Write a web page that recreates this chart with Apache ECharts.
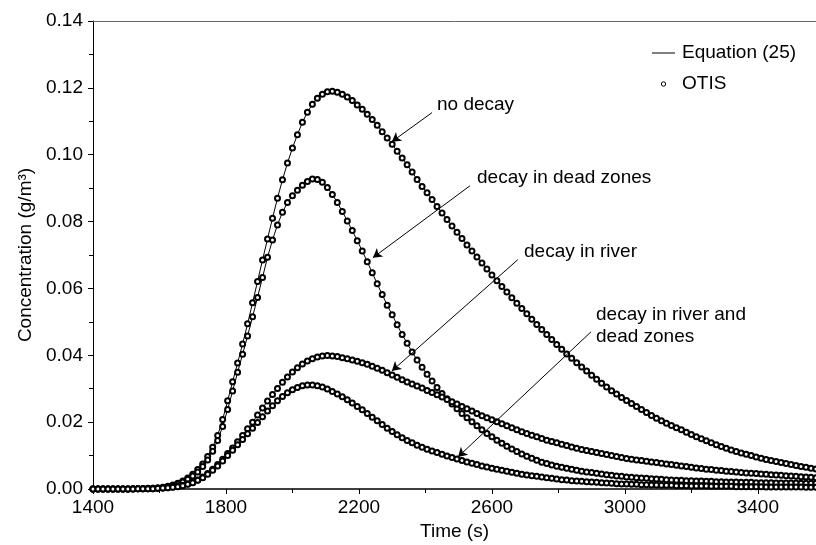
<!DOCTYPE html>
<html lang="en">
<head>
    <meta charset="UTF-8">
    <title>concentration</title>
    <script src="https://cdn.jsdelivr.net/npm/echarts@6/dist/echarts.min.js"></script>
</head>
<body style="margin:0">
    <div id="main" style="width: 816px;height: 545px;"></div>
    <script>
        // time axis: one OTIS point every 15 s starting at 1400 s
        var tStart = 1400
        var tStep = 15

        var noDecay = [
            0, 0, 0, 0, 0, 0, 0, 0, 0.0001, 0.0001,
            0.0001, 0.0002, 0.0002, 0.0003, 0.0005, 0.0008, 0.0012, 0.0017, 0.0024, 0.0033,
            0.0044, 0.0058, 0.0075, 0.0097, 0.0125, 0.0160, 0.0208, 0.0264, 0.0321, 0.0377,
            0.0434, 0.0494, 0.0557, 0.0621, 0.0685, 0.0748, 0.0810, 0.0870, 0.0925, 0.0975,
            0.1020, 0.1060, 0.1097, 0.1127, 0.1151, 0.1169, 0.1181, 0.1188, 0.1190, 0.1187,
            0.1181, 0.1173, 0.1162, 0.1149, 0.1136, 0.1121, 0.1105, 0.1088, 0.1069, 0.1050,
            0.1031, 0.1010, 0.0990, 0.0970, 0.0948, 0.0926, 0.0905, 0.0886, 0.0866, 0.0845,
            0.0826, 0.0806, 0.0787, 0.0768, 0.0749, 0.0730, 0.0712, 0.0694, 0.0676, 0.0658,
            0.0640, 0.0623, 0.0606, 0.0589, 0.0572, 0.0556, 0.0540, 0.0524, 0.0508, 0.0492,
            0.0477, 0.0462, 0.0447, 0.0432, 0.0418, 0.0404, 0.0391, 0.0378, 0.0365, 0.0353,
            0.0340, 0.0328, 0.0316, 0.0305, 0.0294, 0.0284, 0.0274, 0.0265, 0.0256, 0.0247,
            0.0238, 0.0229, 0.0220, 0.0212, 0.0204, 0.0197, 0.0190, 0.0183, 0.0177, 0.0170,
            0.0163, 0.0156, 0.0150, 0.0144, 0.0138, 0.0132, 0.0127, 0.0122, 0.0117, 0.0112,
            0.0108, 0.0104, 0.0100, 0.0096, 0.0092, 0.0088, 0.0085, 0.0082, 0.0079, 0.0076,
            0.0073, 0.0070, 0.0067, 0.0065, 0.0062, 0.0060, 0.0058
        ]
        var decayDeadZones = [
            0, 0, 0, 0, 0, 0, 0, 0, 0.0001, 0.0001,
            0.0001, 0.0001, 0.0002, 0.0003, 0.0004, 0.0007, 0.0010, 0.0015, 0.0021, 0.0029,
            0.0039, 0.0051, 0.0067, 0.0087, 0.0113, 0.0145, 0.0187, 0.0238, 0.0293, 0.0349,
            0.0403, 0.0458, 0.0515, 0.0573, 0.0633, 0.0693, 0.0745, 0.0790, 0.0828, 0.0857,
            0.0877, 0.0894, 0.0909, 0.0920, 0.0927, 0.0926, 0.0918, 0.0902, 0.0881, 0.0857,
            0.0830, 0.0802, 0.0773, 0.0743, 0.0712, 0.0680, 0.0647, 0.0614, 0.0582, 0.0550,
            0.0521, 0.0491, 0.0462, 0.0436, 0.0410, 0.0386, 0.0364, 0.0343, 0.0323, 0.0304,
            0.0286, 0.0270, 0.0254, 0.0240, 0.0226, 0.0213, 0.0201, 0.0189, 0.0177, 0.0166,
            0.0156, 0.0146, 0.0137, 0.0128, 0.0120, 0.0112, 0.0105, 0.0098, 0.0092, 0.0086,
            0.0080, 0.0076, 0.0072, 0.0068, 0.0065, 0.0062, 0.0059, 0.0056, 0.0053, 0.0051,
            0.0049, 0.0047, 0.0045, 0.0043, 0.0041, 0.0039, 0.0038, 0.0036, 0.0035, 0.0034,
            0.0033, 0.0032, 0.0031, 0.0030, 0.0029, 0.0028, 0.0027, 0.0026, 0.0026, 0.0025,
            0.0025, 0.0024, 0.0024, 0.0023, 0.0023, 0.0022, 0.0022, 0.0021, 0.0021, 0.0021,
            0.0020, 0.0020, 0.0020, 0.0019, 0.0019, 0.0019, 0.0019, 0.0018, 0.0018, 0.0018,
            0.0018, 0.0018, 0.0017, 0.0017, 0.0017, 0.0017, 0.0017
        ]
        var decayRiver = [
            0, 0, 0, 0, 0, 0, 0, 0, 0, 0.0001,
            0.0001, 0.0001, 0.0001, 0.0002, 0.0003, 0.0004, 0.0006, 0.0008, 0.0011, 0.0015,
            0.0020, 0.0027, 0.0036, 0.0046, 0.0059, 0.0073, 0.0089, 0.0106, 0.0123, 0.0141,
            0.0160, 0.0180, 0.0200, 0.0221, 0.0242, 0.0263, 0.0283, 0.0301, 0.0319, 0.0335,
            0.0350, 0.0363, 0.0374, 0.0383, 0.0390, 0.0395, 0.0398, 0.0399, 0.0398, 0.0396,
            0.0393, 0.0390, 0.0386, 0.0382, 0.0378, 0.0373, 0.0367, 0.0361, 0.0355, 0.0348,
            0.0341, 0.0334, 0.0327, 0.0320, 0.0314, 0.0308, 0.0302, 0.0295, 0.0289, 0.0282,
            0.0275, 0.0268, 0.0261, 0.0254, 0.0247, 0.0240, 0.0233, 0.0226, 0.0219, 0.0213,
            0.0207, 0.0201, 0.0195, 0.0189, 0.0183, 0.0177, 0.0171, 0.0166, 0.0161, 0.0156,
            0.0151, 0.0146, 0.0142, 0.0138, 0.0134, 0.0130, 0.0126, 0.0122, 0.0118, 0.0115,
            0.0112, 0.0109, 0.0106, 0.0103, 0.0100, 0.0097, 0.0094, 0.0091, 0.0089, 0.0087,
            0.0085, 0.0083, 0.0081, 0.0079, 0.0077, 0.0075, 0.0073, 0.0071, 0.0069, 0.0067,
            0.0065, 0.0063, 0.0061, 0.0059, 0.0058, 0.0056, 0.0055, 0.0053, 0.0052, 0.0051,
            0.0049, 0.0048, 0.0047, 0.0046, 0.0045, 0.0044, 0.0043, 0.0042, 0.0041, 0.0040,
            0.0039, 0.0038, 0.0037, 0.0036, 0.0035, 0.0034, 0.0033
        ]
        var decayRiverDead = [
            0, 0, 0, 0, 0, 0, 0, 0, 0, 0.0001,
            0.0001, 0.0001, 0.0001, 0.0002, 0.0003, 0.0004, 0.0005, 0.0007, 0.0010, 0.0014,
            0.0019, 0.0026, 0.0034, 0.0044, 0.0056, 0.0069, 0.0084, 0.0100, 0.0116, 0.0132,
            0.0148, 0.0165, 0.0182, 0.0199, 0.0216, 0.0233, 0.0249, 0.0264, 0.0277, 0.0288,
            0.0297, 0.0304, 0.0309, 0.0311, 0.0311, 0.0309, 0.0305, 0.0299, 0.0292, 0.0284,
            0.0276, 0.0267, 0.0257, 0.0247, 0.0237, 0.0226, 0.0215, 0.0204, 0.0193, 0.0182,
            0.0172, 0.0162, 0.0153, 0.0145, 0.0138, 0.0131, 0.0125, 0.0119, 0.0114, 0.0109,
            0.0104, 0.0099, 0.0094, 0.0090, 0.0085, 0.0081, 0.0077, 0.0073, 0.0069, 0.0066,
            0.0062, 0.0059, 0.0056, 0.0053, 0.0050, 0.0047, 0.0044, 0.0042, 0.0040, 0.0038,
            0.0036, 0.0034, 0.0032, 0.0030, 0.0028, 0.0027, 0.0025, 0.0024, 0.0023, 0.0022,
            0.0021, 0.0020, 0.0019, 0.0018, 0.0017, 0.0016, 0.0015, 0.0015, 0.0014, 0.0014,
            0.0013, 0.0013, 0.0012, 0.0012, 0.0011, 0.0011, 0.0011, 0.0010, 0.0010, 0.0010,
            0.0009, 0.0009, 0.0009, 0.0009, 0.0008, 0.0008, 0.0008, 0.0008, 0.0008, 0.0007,
            0.0007, 0.0007, 0.0007, 0.0007, 0.0007, 0.0006, 0.0006, 0.0006, 0.0006, 0.0006,
            0.0006, 0.0006, 0.0006, 0.0005, 0.0005, 0.0005, 0.0005
        ]

        // arrows: [from, to] in data coordinates (time, concentration)
        var arrows = [
            [[2420, 0.1126], [2299, 0.1039]],
            [[2534, 0.0907], [2242, 0.0692]],
            [[2678, 0.0686], [2299, 0.0353]],
            [[2898, 0.0470], [2498, 0.0096]]
        ]

        var font = '"Liberation Sans", Arial, Helvetica, sans-serif'

        function toPairs(arr) {
            return arr.map(function (v, i) { return [tStart + i * tStep, v] })
        }

        function curve(name, arr) {
            return {
                name: name,
                type: 'line',
                data: toPairs(arr),
                symbol: 'emptyCircle',
                symbolSize: 5,
                showAllSymbol: true,
                lineStyle: { color: '#000', width: 1 },
                itemStyle: { color: '#000', borderWidth: 1 },
                emphasis: { disabled: true }
            }
        }

        var series = [
            curve('no decay', noDecay),
            curve('decay in dead zones', decayDeadZones),
            curve('decay in river', decayRiver),
            curve('decay in river and dead zones', decayRiverDead)
        ]
        // the annotation arrows
        series[0].markLine = {
            silent: true,
            symbol: ['none', 'arrow'],
            symbolSize: [8, 9],
            label: { show: false },
            lineStyle: { color: '#000', width: 1, type: 'solid' },
            data: arrows.map(function (a) {
                return [{ coord: a[0] }, { coord: a[1] }]
            })
        }

        // text placed by its left edge and vertical middle
        function label(x, y, s) {
            return {
                type: 'text', x: x, y: y,
                style: { text: s, fontSize: 19, fill: '#000', fontFamily: font, align: 'left', verticalAlign: 'middle' }
            }
        }

        var myCharts = echarts.init(document.getElementById('main'))
        var option = {
            animation: false,
            grid: { left: 93, right: 0, top: 21, bottom: 56, outerBoundsMode: 'none' },
            xAxis: [{
                type: 'value',
                min: 1400,
                max: 3575,
                interval: 400,
                name: 'Time (s)',
                nameLocation: 'middle',
                nameGap: 33,
                nameTextStyle: { fontSize: 19, color: '#000', fontFamily: font },
                axisLine: { lineStyle: { color: '#000', width: 1.5 } },
                axisTick: { length: 5, lineStyle: { color: '#000' } },
                minorTick: { show: true, splitNumber: 2, length: 4, lineStyle: { color: '#000' } },
                splitLine: { show: false },
                axisLabel: {
                    fontSize: 19, color: '#000', fontFamily: font, margin: 9,
                    formatter: function (v) { return (v - 1400) % 400 === 0 ? String(v) : '' }
                }
            }, {
                // plain top frame line
                type: 'value',
                position: 'top',
                min: 1400,
                max: 3575,
                axisLine: { show: true, lineStyle: { color: '#666', width: 1 } },
                axisTick: { show: false },
                axisLabel: { show: false },
                splitLine: { show: false }
            }],
            yAxis: {
                type: 'value',
                min: 0,
                max: 0.14,
                interval: 0.02,
                name: 'Concentration (g/m³)',
                nameLocation: 'middle',
                nameGap: 58,
                nameTextStyle: { fontSize: 19, color: '#000', fontFamily: font },
                axisLine: { show: true, lineStyle: { color: '#000', width: 1 } },
                axisTick: { length: 5, lineStyle: { color: '#000' } },
                minorTick: { show: true, splitNumber: 2, length: 4, lineStyle: { color: '#000' } },
                splitLine: { show: false },
                axisLabel: {
                    fontSize: 19, color: '#000', fontFamily: font, margin: 10,
                    formatter: function (v) { return v.toFixed(2) }
                }
            },
            series: series,
            graphic: [
                // legend
                { type: 'line', shape: { x1: 652, y1: 53, x2: 675, y2: 53 }, style: { stroke: '#000', lineWidth: 1 } },
                label(682, 53, 'Equation (25)'),
                { type: 'circle', shape: { cx: 663.5, cy: 84, r: 2.2 }, style: { stroke: '#000', fill: '#fff', lineWidth: 1 } },
                label(682, 84, 'OTIS'),
                // curve names
                label(437, 105, 'no decay'),
                label(477, 178, 'decay in dead zones'),
                label(524, 252, 'decay in river'),
                label(596, 315, 'decay in river and'),
                label(596, 337, 'dead zones')
            ]
        }
        myCharts.setOption(option)
    </script>
</body>
</html>
